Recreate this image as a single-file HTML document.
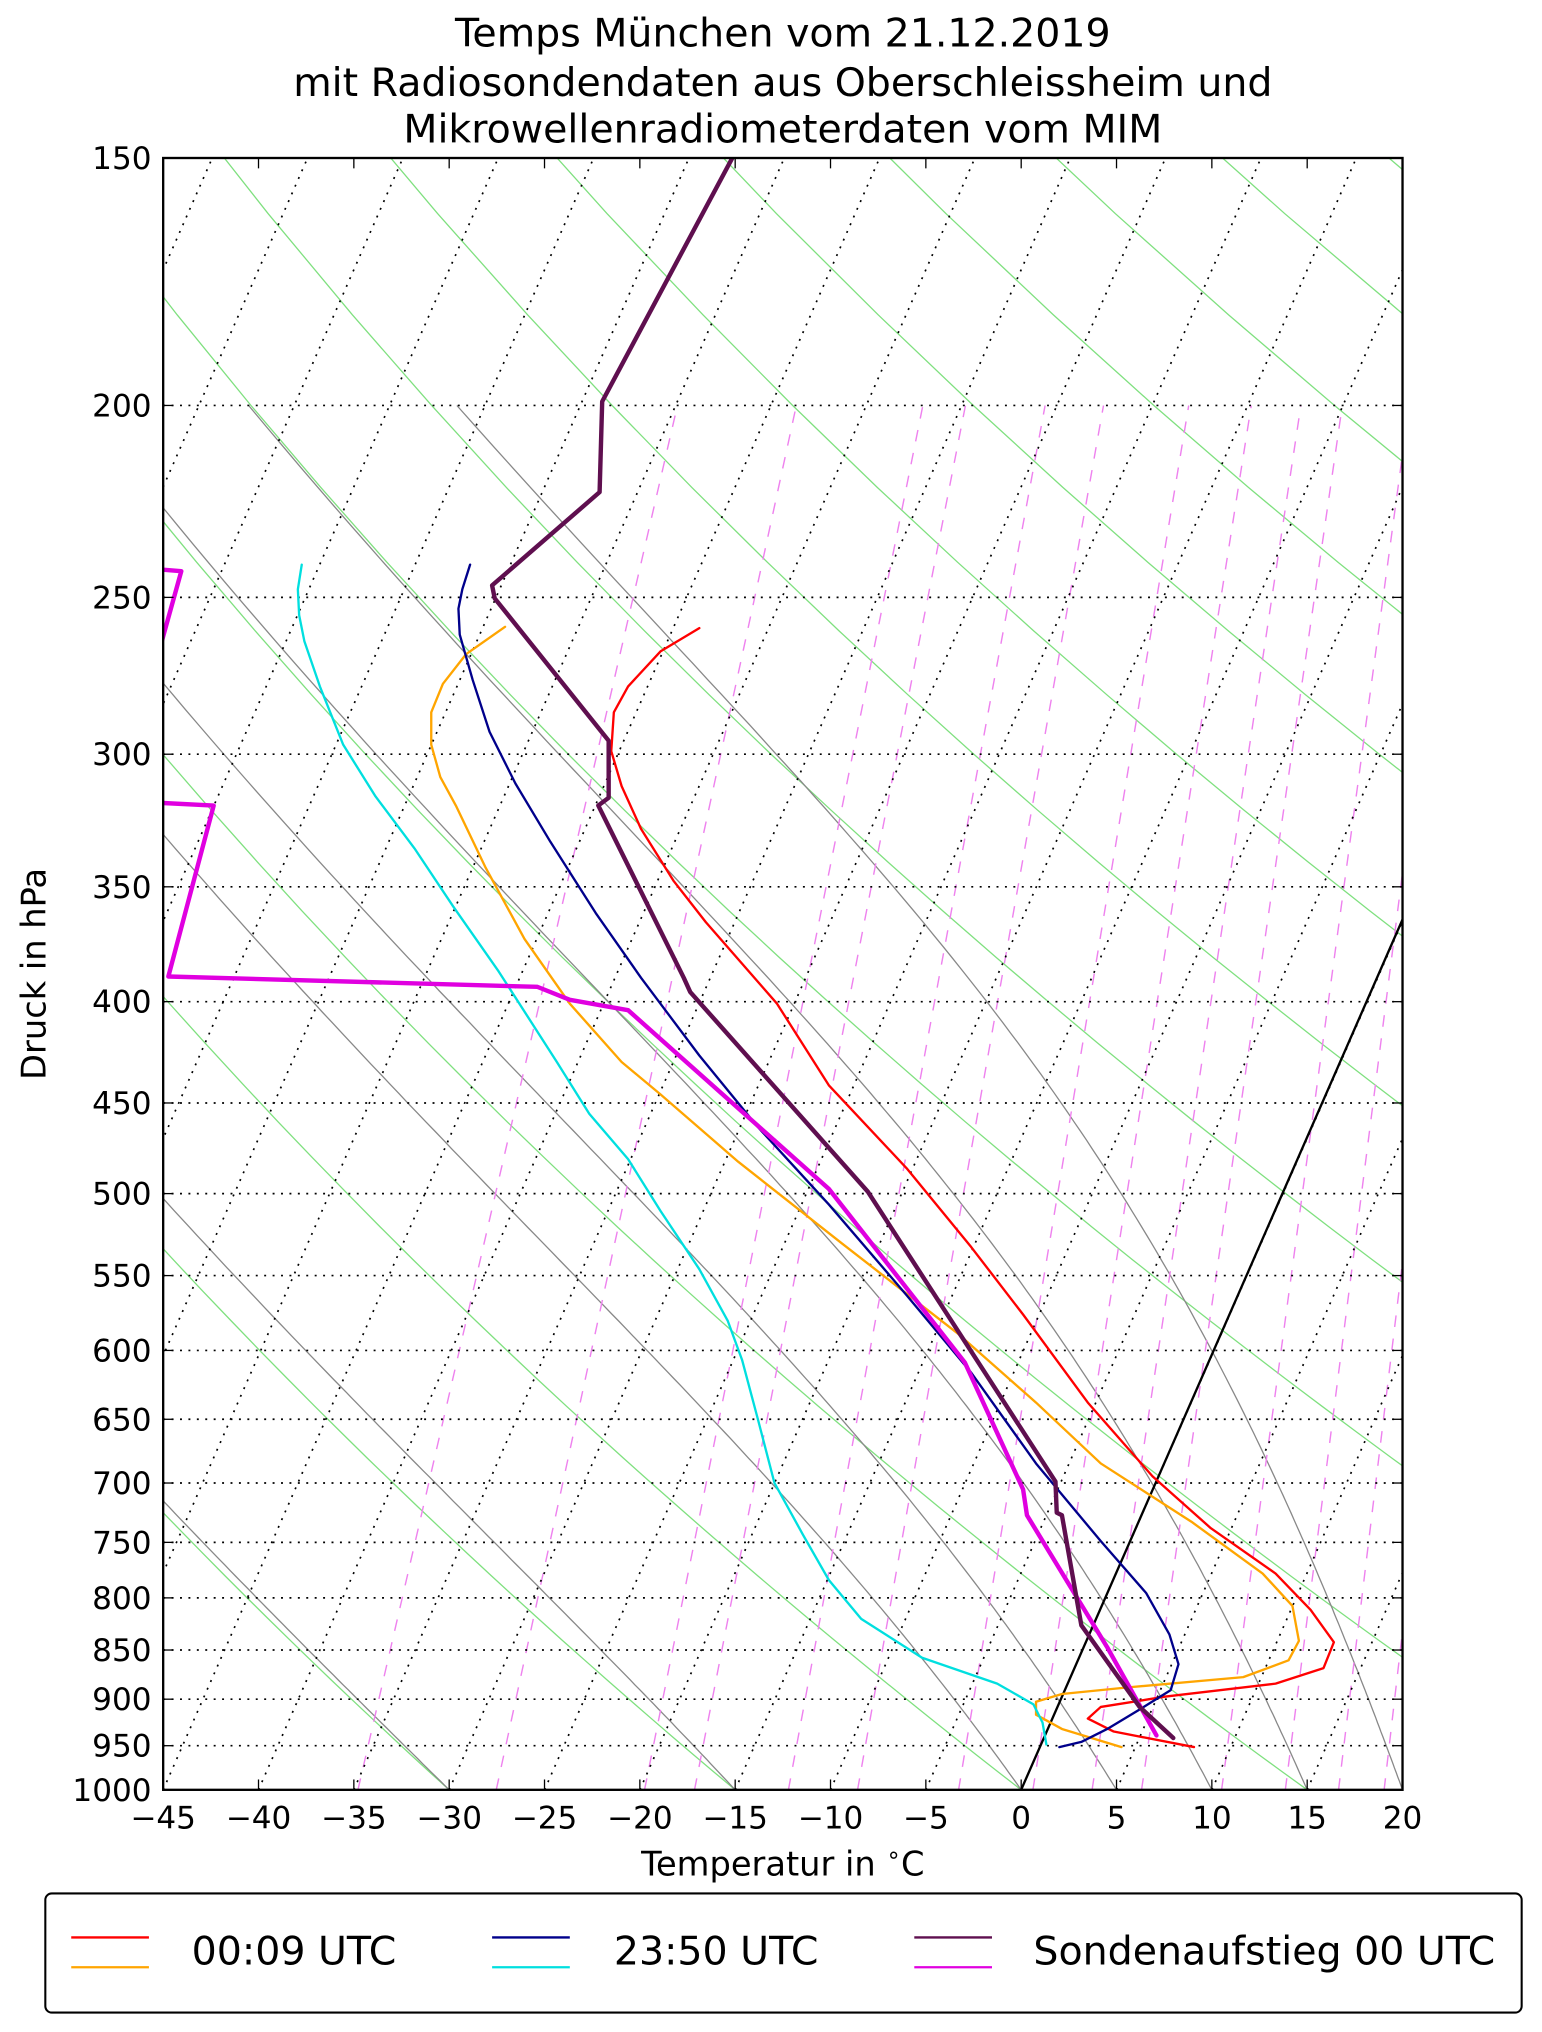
<!DOCTYPE html>
<html><head><meta charset="utf-8"><style>
html,body{margin:0;padding:0;background:#fff;}
svg{display:block;}
text{font-family:"DejaVu Sans","Liberation Sans",sans-serif;fill:#000;}
</style></head><body>
<svg id="s" xmlns="http://www.w3.org/2000/svg" width="1542" height="2032" viewBox="0 0 1190.7 1569" preserveAspectRatio="none">
<defs><clipPath id="c"><rect x="126" y="122" width="957" height="1260"/></clipPath></defs>
<rect x="0" y="0" width="1190.7" height="1569" fill="#fff"/>
<g id="bg" clip-path="url(#c)"></g>
<g id="data" clip-path="url(#c)" fill="none" stroke-linejoin="round" stroke-linecap="round">
<line x1="788.5" y1="1382" x2="1083" y2="710" stroke="#000" stroke-width="1.8"/>
<polyline stroke="#ff0000" stroke-width="1.8" points="540,485 510,503 485,530 474,550 472,580 480,607 495,640 520,680 545,712 600,775 640,838 700,902 750,963 790,1015 840,1083 890,1140 935,1180 985,1215 1012,1243 1030,1268 1022,1288 985,1300 900,1310 850,1318 840,1327 860,1337 922,1349"/>
<polyline stroke="#ffa500" stroke-width="1.8" points="390,484 360,505 342,528 333,550 333,575 340,600 352,622 375,670 405,725 440,775 480,820 510,845 570,897 650,960 740,1030 800,1083 850,1130 920,1175 975,1215 998,1240 1003,1267 995,1282 960,1295 870,1303 820,1308 800,1314 800,1324 820,1335 866,1349"/>
<polyline stroke="#00008b" stroke-width="1.8" points="363,436 357,455 354,470 355,490 365,525 378,565 398,605 425,650 460,705 495,755 540,815 585,870 640,930 700,1000 750,1060 800,1130 850,1190 885,1230 903,1262 910,1285 904,1305 880,1320 855,1335 835,1345 818,1349"/>
<polyline stroke="#00dfdf" stroke-width="1.8" points="233,436 230,455 231,475 235,495 247,530 265,575 290,615 320,655 350,700 385,750 430,820 455,860 485,895 510,935 540,980 562,1020 573,1050 585,1095 598,1145 620,1185 640,1220 665,1250 712,1280 770,1300 798,1316 805,1330 808,1347"/>
<polyline stroke="#e000e0" stroke-width="3.4" points="127,440 140,441 125,495"/>
<polyline stroke="#e000e0" stroke-width="3.4" points="125,620 165,622 130,754 415,762 440,772 485,780 640,918 745,1052 790,1150 793,1170 855,1272 893,1340"/>
<polyline stroke="#5f0f4f" stroke-width="3.4" points="566,121 465,310 463,380 380,452 382,462 470,572 470,616 462,622 528,755 533,766 670,920 815,1144 816,1168 820,1170 835,1255 880,1318 906,1342"/>
</g>
<rect x="126" y="122" width="957" height="1260" fill="none" stroke="#000" stroke-width="1.8"/>
<g id="ticks" stroke="#000" stroke-width="1"></g>
<g id="labels" font-size="24"></g>
<text x="604.5" y="36" font-size="30.5" text-anchor="middle">Temps München vom 21.12.2019</text>
<text x="604.5" y="74" font-size="30.5" text-anchor="middle">mit Radiosondendaten aus Oberschleissheim und</text>
<text x="604.5" y="110" font-size="30.5" text-anchor="middle">Mikrowellenradiometerdaten vom MIM</text>
<text x="604.5" y="1448" font-size="26" text-anchor="middle">Temperatur in <tspan dy="-10" font-size="18">∘</tspan><tspan dy="10">C</tspan></text>
<text x="0" y="0" font-size="26" text-anchor="middle" transform="translate(35,752) rotate(-90)">Druck in hPa</text>
<rect x="35" y="1462" width="1140" height="92" rx="5" fill="#fff" stroke="#000" stroke-width="1.6"/>
<line x1="55" y1="1496" x2="115" y2="1496" stroke="#ff0000" stroke-width="1.8"/>
<line x1="55" y1="1519" x2="115" y2="1519" stroke="#ffa500" stroke-width="1.8"/>
<line x1="380" y1="1496" x2="440" y2="1496" stroke="#00008b" stroke-width="1.8"/>
<line x1="380" y1="1519" x2="440" y2="1519" stroke="#00dfdf" stroke-width="1.8"/>
<line x1="706" y1="1496" x2="766" y2="1496" stroke="#5f0f4f" stroke-width="1.8"/>
<line x1="706" y1="1519" x2="766" y2="1519" stroke="#e000e0" stroke-width="1.8"/>
<text x="148" y="1517" font-size="30.5">00:09 UTC</text>
<text x="474" y="1517" font-size="30.5">23:50 UTC</text>
<text x="798" y="1517" font-size="30.5">Sondenaufstieg 00 UTC</text>
</svg>
<script>
(function(){
var NS="http://www.w3.org/2000/svg";
var L0=126,R0=1083,T0=122,B0=1382;
var SX=(R0-L0)/65, X0=L0+45*SX, SY=(B0-T0)/Math.log(1000/150), SK=291.6;
function X(T,p){return X0+SX*T+SK*Math.log(1000/p);}
function Y(p){return B0-SY*Math.log(1000/p);}
function el(n,a,par){var e=document.createElementNS(NS,n);for(var k in a)e.setAttribute(k,a[k]);par.appendChild(e);return e;}
var bg=document.getElementById('bg');
function poly(pts,st,w,da){el('polyline',{points:pts.map(function(q){return q[0].toFixed(1)+','+q[1].toFixed(1)}).join(' '),fill:'none',stroke:st,'stroke-width':w,'stroke-dasharray':da||'none'},bg);}
for(var t0=-30;t0<=300;t0+=15){var th=t0+273.15,pts=[];for(var p=1000;p>=140;p-=20){pts.push([X(th*Math.pow(p/1000,0.2857)-273.15,p),Y(p)]);}poly(pts,'#7fe07f',1);}
function es(T){return 6.112*Math.exp(17.67*T/(T+243.5));}
function dTdp(T,p){var Tk=T+273.15,rs=0.622*es(T)/(p-es(T));return (287*Tk+2.5e6*rs)/(1004+2.5e6*2.5e6*rs*0.622/(287*Tk*Tk))/p;}
[-30,-15,0,5,10,15,20].forEach(function(t){var T=t,pts=[[X(T,1000),Y(1000)]];for(var p=1000;p>200;p-=5){var k1=dTdp(T,p),k2=dTdp(T-5*k1,p-5);T-=5*(k1+k2)/2;pts.push([X(T,p-5),Y(p-5)]);}poly(pts,'#888',1);});
[0.2,0.4,0.8,1,1.5,2,3,4,5,6,8,10,12,14,16,20].forEach(function(w){w/=1000;var pts=[];[1000,200].forEach(function(p){var e=w*p/(0.622+w),l=Math.log(e/6.112),Td=243.5*l/(17.67-l);pts.push([X(Td,p),Y(p)]);});poly(pts,'#ee82ee',1.1,'9 9');});
for(var T=-160;T<=20;T+=5){poly([[X(T,1000),Y(1000)],[X(T,150),Y(150)]],'#000',1.3,'1.5 5');}
var P=[150,200,250,300,350,400,450,500,550,600,650,700,750,800,850,900,950,1000];
P.forEach(function(p){if(p>150&&p<1000)el('line',{x1:L0,x2:R0,y1:Y(p),y2:Y(p),stroke:'#000','stroke-width':1.3,'stroke-dasharray':'1.5 5'},bg);});
var tk=document.getElementById('ticks'),lb=document.getElementById('labels');
P.forEach(function(p){var y=Y(p);el('line',{x1:L0,x2:L0+8,y1:y,y2:y},tk);el('line',{x1:R0-8,x2:R0,y1:y,y2:y},tk);var t=el('text',{x:117,y:y+8.5,'text-anchor':'end'},lb);t.textContent=p;});
for(var T=-45;T<=20;T+=5){var x=L0+(T+45)*SX;el('line',{x1:x,x2:x,y1:B0,y2:B0-8},tk);el('line',{x1:x,x2:x,y1:T0,y2:T0+8},tk);var t=el('text',{x:x,y:1412,'text-anchor':'middle'},lb);t.textContent=(T<0?'\u2212'+(-T):''+T);}
})();
</script>
</body></html>
